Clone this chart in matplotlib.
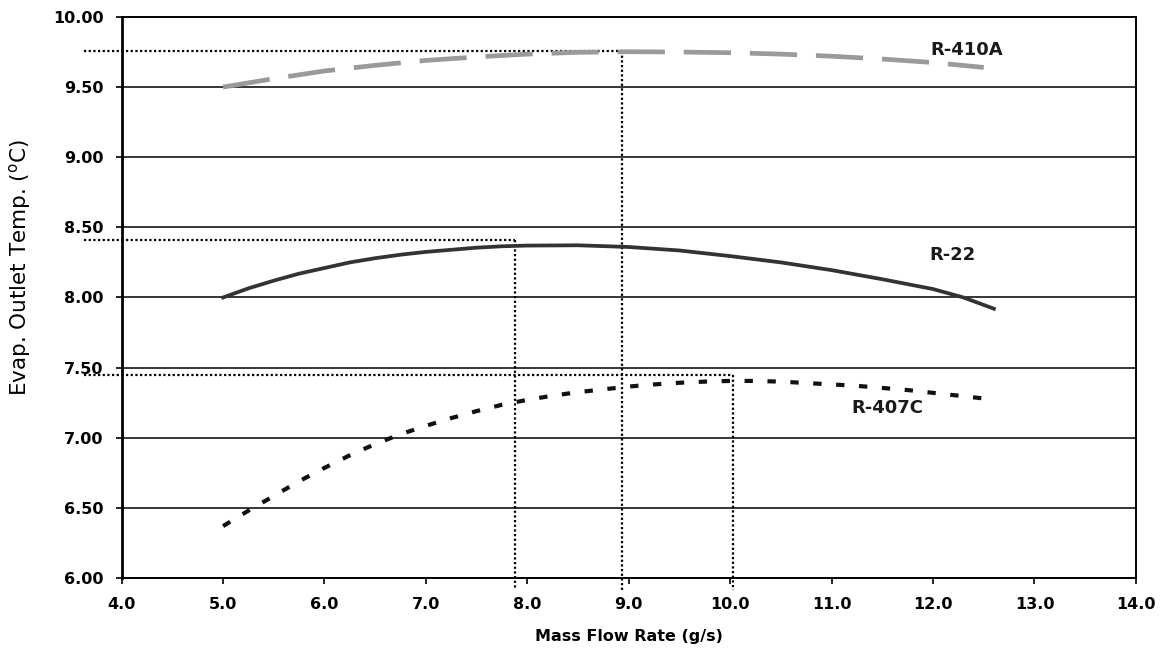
import numpy as np
import matplotlib
matplotlib.use("Agg")
import matplotlib.pyplot as plt

# ---- data ----
x_410a = [5.0, 5.5, 6.0, 6.5, 7.0, 7.5, 8.0, 8.5, 9.0, 9.5, 10.0, 10.5, 11.0, 11.5, 12.0, 12.5]
y_410a = [9.50, 9.56, 9.615, 9.655, 9.69, 9.715, 9.735, 9.748, 9.752, 9.75, 9.745, 9.735, 9.72, 9.70, 9.675, 9.64]

x_r22 = [5.0, 5.25, 5.5, 5.75, 6.0, 6.25, 6.5, 6.75, 7.0, 7.25, 7.5, 7.75, 8.0, 8.5, 9.0, 9.5,
         10.0, 10.5, 11.0, 11.5, 12.0, 12.3, 12.6]
y_r22 = [8.00, 8.065, 8.12, 8.17, 8.21, 8.25, 8.28, 8.305, 8.325, 8.34, 8.355, 8.365, 8.37, 8.372, 8.36, 8.335,
         8.295, 8.25, 8.195, 8.13, 8.06, 8.00, 7.92]

x_407c = [5.0, 5.25, 5.5, 5.75, 6.0, 6.25, 6.5, 6.75, 7.0, 7.25, 7.5, 7.75, 8.0, 8.25, 8.5, 8.75,
          9.0, 9.25, 9.5, 9.75, 10.0, 10.25, 10.5, 10.75, 11.0, 11.25, 11.5, 11.75, 12.0, 12.25, 12.5]
y_407c = [6.37, 6.48, 6.585, 6.69, 6.785, 6.875, 6.955, 7.025, 7.085, 7.14, 7.19, 7.235, 7.27, 7.30, 7.325, 7.345,
          7.365, 7.38, 7.392, 7.40, 7.405, 7.405, 7.40, 7.39, 7.38, 7.37, 7.355, 7.34, 7.32, 7.30, 7.28]

series_names = ["R-410A", "R-22", "R-407C"]
label_x = [12.33, 12.19, 11.55]
label_y = [9.765, 8.30, 7.215]

# reference (peak) lines: x of vertical, y of horizontal
ref_x = [8.93, 7.88, 10.03]
ref_y = [9.76, 8.41, 7.45]
ref_start_x = 3.63

xticks = [4.0, 5.0, 6.0, 7.0, 8.0, 9.0, 10.0, 11.0, 12.0, 13.0, 14.0]
yticks = [6.00, 6.50, 7.00, 7.50, 8.00, 8.50, 9.00, 9.50, 10.00]

# ---- figure ----
fig = plt.figure(figsize=(11.65, 6.52), dpi=100)
ax = fig.add_axes([0.1044, 0.1135, 0.8706, 0.8605])
ax.set_xlim(4, 14)
ax.set_ylim(6, 10)

# horizontal solid grid lines (interior ticks)
for yv in yticks[1:-1]:
    ax.axhline(yv, color="black", lw=1.1, zorder=1)

# spines
for side in ["top", "right", "bottom"]:
    ax.spines[side].set_linestyle((0, (1, 1)))
    ax.spines[side].set_linewidth(1.4)
ax.spines["left"].set_linewidth(2.0)

# reference dotted lines
dot = (0, (1, 1.1))
for rx, ry in zip(ref_x, ref_y):
    ax.plot([ref_start_x, rx], [ry, ry], color="black", lw=1.6, ls=dot, clip_on=False, zorder=2)
    ax.plot([rx, rx], [ry, 5.915], color="black", lw=1.6, ls=dot, clip_on=False, zorder=2)

# curves
ax.plot(x_410a, y_410a, color="#9a9a9a", lw=3.4, ls=(0, (10, 4)), zorder=3)
ax.plot(x_r22, y_r22, color="#333333", lw=2.7, zorder=3)
ax.plot(x_407c, y_407c, color="#111111", lw=3.0, ls=(0, (2, 3.5)), zorder=3)

for name, lx, ly in zip(series_names, label_x, label_y):
    ax.text(lx, ly, name, fontsize=13, fontweight="bold", ha="center", va="center", color="#1a1a1a")

ax.set_xticks(xticks)
ax.set_xticklabels([f"{v:.1f}" for v in xticks], fontsize=11.5, fontweight="bold")
ax.set_yticks(yticks)
ax.set_yticklabels([f"{v:.2f}" for v in yticks], fontsize=11.5, fontweight="bold")
ax.tick_params(axis="y", direction="out", length=4.5, width=1.2, pad=8.5)
ax.tick_params(axis="x", direction="out", length=4, width=1.2, pad=10)

ax.set_xlabel("Mass Flow Rate (g/s)", fontsize=11.5, fontweight="bold", labelpad=12)
ax.set_ylabel(r"Evap. Outlet Temp. ($^{\mathrm{o}}$C)", fontsize=15.5)
ax.yaxis.set_label_coords(-0.087, 0.553)

fig.savefig("out.png", dpi=100)
